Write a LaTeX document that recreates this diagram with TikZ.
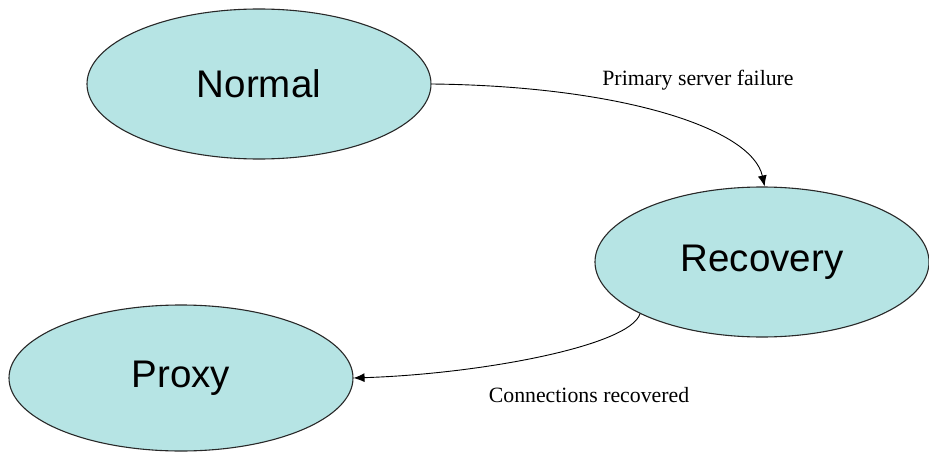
\documentclass[tikz,border=0pt]{standalone}
\usepackage{fontspec}
\setmainfont{Liberation Serif}
\newfontfamily\statefont{Liberation Sans}
\usetikzlibrary{shapes.geometric,arrows.meta}
\definecolor{statefill}{RGB}{182,228,228}
\definecolor{stateline}{RGB}{40,40,40}
\tikzset{
  state/.style={ellipse, draw=stateline, line width=1.1pt, fill=statefill,
    inner sep=0pt, minimum width=344pt, minimum height=150pt,
    font=\statefont\fontsize{38.5}{40}\selectfont},
  trans/.style={draw=black, line width=0.9pt, -{Latex[length=11pt,width=9pt]}},
  translabel/.style={font=\fontsize{21.8}{24}\selectfont, inner sep=0pt}
}
\begin{document}
\begin{tikzpicture}[x=1pt,y=-1pt]
  \useasboundingbox (0,0) rectangle (929,452);
  % states
  \node[state] (normal) at (259,84) {Normal};
  \node[state, minimum width=334pt] (recovery) at (762,262) {Recovery};
  \node[state, minimum height=146pt] (proxy) at (181,378) {Proxy};
  % transition labels
  \node[translabel] (lblfail) at (698,80) {Primary server failure};
  \node[translabel] (lblrec) at (589,395) {Connections recovered};
  % transitions
  \draw[trans] (normal.east) .. controls (620,86) and (752,128) .. (recovery.88);
  \draw[trans] (recovery.203) .. controls (630,346) and (480,374) .. (proxy.east);
\end{tikzpicture}
\end{document}
